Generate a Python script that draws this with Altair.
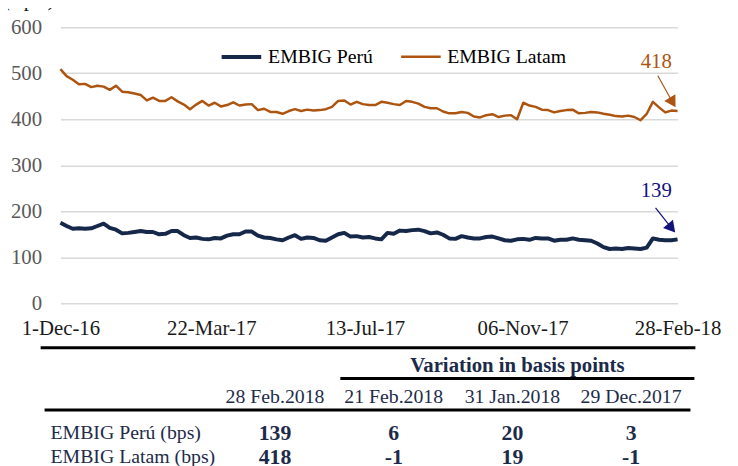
import altair as alt
import pandas as pd

SERIF = "Liberation Serif"

# ---------------- data ----------------
start_date = "2016-12-01"
end_date = "2018-02-28"
series_names = ["EMBIG Perú", "EMBIG Latam"]
series_colors = ["#16284a", "#ad5510"]

peru = [175, 168, 162, 163, 162, 163, 168, 173, 164, 160,
        152, 153, 155, 157, 155, 155, 150, 151, 157, 157,
        148, 142, 143, 140, 139, 142, 141, 147, 150, 150,
        156, 156, 147, 143, 142, 139, 137, 143, 148, 140,
        143, 142, 137, 136, 143, 150, 153, 145, 146, 143,
        144, 141, 139, 153, 151, 158, 157, 159, 160, 157,
        152, 154, 149, 141, 140, 146, 143, 141, 141, 144,
        145, 141, 137, 136, 139, 140, 138, 142, 141, 141,
        136, 138, 138, 141, 138, 137, 136, 130, 122, 118,
        119, 118, 120, 119, 118, 121, 141, 138, 137, 137,
        139]

latam = [509, 494, 486, 476, 477, 470, 473, 471, 464, 473,
         460, 459, 456, 453, 441, 447, 440, 440, 448, 439,
         432, 422, 432, 440, 430, 436, 428, 431, 437, 430,
         432, 433, 420, 423, 416, 416, 412, 418, 422, 418,
         421, 419, 420, 422, 427, 440, 441, 432, 438, 433,
         431, 431, 438, 436, 433, 431, 440, 438, 434, 427,
         424, 424, 417, 413, 413, 416, 414, 406, 404, 409,
         411, 405, 408, 409, 400, 436, 430, 427, 421, 420,
         415, 418, 420, 421, 413, 414, 416, 415, 412, 410,
         407, 406, 408, 405, 398, 412, 438, 426, 415, 419,
         418]

tick_dates = ["2016-12-01", "2017-03-22", "2017-07-13", "2017-11-06", "2018-02-28"]
tick_labels = ["1-Dec-16", "22-Mar-17", "13-Jul-17", "06-Nov-17", "28-Feb-18"]
y_ticks = [0, 100, 200, 300, 400, 500, 600]

# annotations: label, day offset from start, value, colour
anno_labels = ["418", "139"]
anno_text_day = [438.3, 438.3]
anno_text_val = [524, 244]
anno_tail_day = [439.5, 437.8]
anno_tail_val = [494.6, 207.6]
anno_head_day = [450.4, 449.6]
anno_head_val = [436.6, 163.2]
anno_angle = [149, 140]
anno_colors = ["#ad5510", "#12127a"]

# table
table_cols = ["28 Feb.2018", "21 Feb.2018", "31 Jan.2018", "29 Dec.2017"]
table_rows = ["EMBIG Perú (bps)", "EMBIG Latam (bps)"]
peru_table = [139, 6, 20, 3]
latam_table = [418, -1, 19, -1]

# ---------------- build tables ----------------
def to_ms(ts):
    return int(pd.Timestamp(ts).value // 10**6)

DAY = 86400000
start_ms = to_ms(start_date)
end_ms = to_ms(end_date)
dates = pd.date_range(start_date, end_date, periods=len(peru))
date_ms = [int(d.value // 10**6) for d in dates]

df = pd.DataFrame({
    "date": date_ms * 2,
    "value": peru + latam,
    "series": [series_names[0]] * len(peru) + [series_names[1]] * len(latam),
})

anno = pd.DataFrame({
    "label": anno_labels,
    "tx": [start_ms + d * DAY for d in anno_text_day],
    "ty": anno_text_val,
    "x1": [start_ms + d * DAY for d in anno_tail_day],
    "y1": anno_tail_val,
    "x2": [start_ms + d * DAY for d in anno_head_day],
    "y2": anno_head_val,
    "angle": anno_angle,
    "color": anno_colors,
})

tbl = pd.DataFrame({
    "col": table_cols * 2,
    "row": [table_rows[0]] * 4 + [table_rows[1]] * 4,
    "val": [str(v) for v in peru_table + latam_table],
})

tick_ms = [to_ms(t) for t in tick_dates]
label_expr = "{}[indexof({}, utcFormat(datum.value, '%Y-%m-%d'))]".format(
    "[" + ",".join("'" + s + "'" for s in tick_labels) + "]",
    "[" + ",".join("'" + s + "'" for s in tick_dates) + "]",
)

xscale = alt.Scale(type="utc", domain=[start_ms, end_ms], nice=False)
yscale = alt.Scale(domain=[0, 600], nice=False)

xaxis = alt.Axis(
    values=tick_ms, labelExpr=label_expr, title=None, grid=False, domain=False,
    ticks=False, labelFontSize=21, labelFont=SERIF, labelPadding=15,
    labelColor="#1a1a1a", labelOverlap=False, labelFlush=False, labelBound=False)
yaxis = alt.Axis(
    values=y_ticks, title=None, grid=True, gridColor="#d9d9d9", gridWidth=1.5,
    domain=False, ticks=False, labelPadding=19, labelFontSize=21, labelFont=SERIF,
    labelColor="#595959")

legend = alt.Legend(
    title=None, orient="none", legendX=161, legendY=8, direction="horizontal",
    symbolType="stroke", symbolSize=1600, labelFontSize=20, labelFont=SERIF,
    labelColor="#000000", columnPadding=22, labelOffset=5, padding=0,
)

lines = alt.Chart(df).mark_line(strokeJoin="round").encode(
    x=alt.X("date:T", scale=xscale, axis=xaxis),
    y=alt.Y("value:Q", scale=yscale, axis=yaxis),
    color=alt.Color("series:N", scale=alt.Scale(domain=series_names, range=series_colors),
                    legend=legend),
    strokeWidth=alt.StrokeWidth("series:O", scale=alt.Scale(domain=series_names, range=[4, 2.5]),
                                legend=legend),
)

ann_text = alt.Chart(anno).mark_text(font=SERIF, fontSize=21, align="center",
                                     baseline="middle").encode(
    x=alt.X("tx:T", scale=xscale, axis=xaxis),
    y=alt.Y("ty:Q", scale=yscale, axis=yaxis),
    text="label:N",
    color=alt.Color("color:N", scale=None),
)
ann_rule = alt.Chart(anno).mark_rule(strokeWidth=1.2).encode(
    x=alt.X("x1:T", scale=xscale, axis=xaxis),
    y=alt.Y("y1:Q", scale=yscale, axis=yaxis),
    x2="x2:T", y2="y2:Q",
    color=alt.Color("color:N", scale=None),
)
ann_head = alt.Chart(anno).mark_point(shape="triangle-up", filled=True, size=170,
                                      opacity=1).encode(
    x=alt.X("x2:T", scale=xscale, axis=xaxis),
    y=alt.Y("y2:Q", scale=yscale, axis=yaxis),
    angle=alt.Angle("angle:Q", scale=None),
    color=alt.Color("color:N", scale=None),
)
bps = alt.Chart(pd.DataFrame({"t": ["(Bps.)"]})).mark_text(
    font=SERIF, fontSize=21, align="left", baseline="bottom", color="#1a1a1a"
).encode(x=alt.value(-58), y=alt.value(-18), text="t:N")

top = alt.layer(lines, ann_rule, ann_head, ann_text, bps)

# ---------------- table ----------------
NAVY = "#1d2b4a"
colscale = alt.Scale(domain=table_cols, range=[217, 577], padding=0)
rowscale = alt.Scale(domain=table_rows, range=[410, 435], padding=0)
one = pd.DataFrame({"k": [0]})

rule_top = alt.Chart(one).mark_rule(color="#000000", strokeWidth=3).encode(
    x=alt.value(-20), x2=alt.value(642), y=alt.value(324))
rule_var = alt.Chart(one).mark_rule(color="#000000", strokeWidth=3).encode(
    x=alt.value(283), x2=alt.value(641), y=alt.value(355))
rule_head = alt.Chart(one).mark_rule(color="#000000", strokeWidth=3).encode(
    x=alt.value(-16), x2=alt.value(637), y=alt.value(387))

var_text = alt.Chart(pd.DataFrame({"t": ["Variation in basis points"]})).mark_text(
    font=SERIF, fontSize=21, fontWeight="bold", color=NAVY, align="center", baseline="middle"
).encode(x=alt.value(462), y=alt.value(343), text="t:N")

head_text = alt.Chart(pd.DataFrame({"col": table_cols})).mark_text(
    font=SERIF, fontSize=20, color=NAVY, align="center", baseline="middle"
).encode(x=alt.X("col:N", scale=colscale, axis=None), y=alt.value(374), text="col:N")

row_text = alt.Chart(pd.DataFrame({"row": table_rows})).mark_text(
    font=SERIF, fontSize=20, color=NAVY, align="left", baseline="middle"
).encode(
    x=alt.value(-10),
    y=alt.Y("row:N", scale=rowscale, axis=None),
    text="row:N")

val_text = alt.Chart(tbl).mark_text(
    font=SERIF, fontSize=22, fontWeight="bold", color=NAVY, align="center", baseline="middle"
).encode(
    x=alt.X("col:N", scale=colscale, axis=None),
    y=alt.Y("row:N", scale=rowscale, axis=None),
    text="val:N")

table = alt.layer(rule_top, rule_var, rule_head, var_text, head_text, row_text, val_text)

chart = alt.layer(top, table).resolve_scale(x="independent", y="independent").properties(
    width=624, height=279,
    autosize=alt.AutoSizeParams(type="none"),
    padding={"left": 53, "top": 17, "right": 53, "bottom": 162},
    background="#ffffff",
).configure_view(stroke=None)

chart.save("out.html", embed_options={"renderer": "svg", "actions": False})
